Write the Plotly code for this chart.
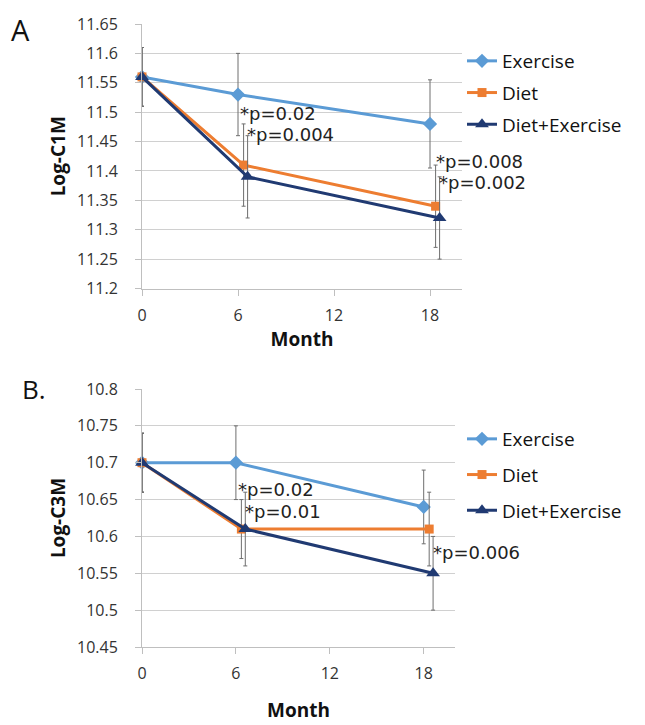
import plotly.graph_objects as go

months = [0, 6, 18]
series_names = ["Exercise", "Diet", "Diet+Exercise"]
x_offsets = [0.0, 0.35, 0.6]  # visual dodge used in the original chart (months)

# Panel A: Log-C1M
c1m_exercise = [11.56, 11.53, 11.48]
c1m_diet = [11.56, 11.41, 11.34]
c1m_dietex = [11.56, 11.39, 11.32]
c1m_err_exercise = [0.05, 0.07, 0.075]
c1m_err_diet = [0.05, 0.07, 0.07]
c1m_err_dietex = [0.05, 0.07, 0.07]

# Panel B: Log-C3M
c3m_exercise = [10.70, 10.70, 10.64]
c3m_diet = [10.70, 10.61, 10.61]
c3m_dietex = [10.70, 10.61, 10.55]
c3m_err_exercise = [0.04, 0.05, 0.05]
c3m_err_diet = [0.04, 0.04, 0.05]
c3m_err_dietex = [0.04, 0.05, 0.05]

# p-value annotations: (x month, y value, text)
pvals_a = [(6.0, 11.497, "*p=0.02"), (6.45, 11.462, "*p=0.004"),
           (18.25, 11.416, "*p=0.008"), (18.45, 11.38, "*p=0.002")]
pvals_b = [(6.0, 10.664, "*p=0.02"), (6.45, 10.634, "*p=0.01"),
           (18.45, 10.578, "*p=0.006")]

colors = ["#5B9BD5", "#ED7D31", "#203A72"]
symbols = ["diamond", "square", "triangle-up"]
msizes = [11, 9, 12]

# page body has an 8px default margin; lay out in page pixels
OFF = 8
W, H = 645 - OFF, 725 - OFF
def px(x):
    return (x - OFF) / W
def py(y):
    return 1 - (y - OFF) / H

fig = go.Figure()

def add_panel(vals, errs, xa, ya, legend):
    for i, (name, v, e) in enumerate(zip(series_names, vals, errs)):
        xs = [m + (x_offsets[i] if m > 0 else 0) for m in months]
        fig.add_trace(go.Scatter(
            x=xs, y=v, name=name, mode="lines+markers",
            line=dict(color=colors[i], width=3),
            marker=dict(symbol=symbols[i], size=msizes[i], color=colors[i]),
            error_y=dict(type="data", array=e, visible=True, color="#6E6E6E",
                         thickness=1, width=2),
            xaxis=xa, yaxis=ya, legend=legend, legendgroup=legend + name,
            cliponaxis=False,
        ))

add_panel([c1m_exercise, c1m_diet, c1m_dietex],
          [c1m_err_exercise, c1m_err_diet, c1m_err_dietex], "x", "y", "legend")
add_panel([c3m_exercise, c3m_diet, c3m_dietex],
          [c3m_err_exercise, c3m_err_diet, c3m_err_dietex], "x2", "y2", "legend2")

afont = dict(family="DejaVu Sans", size=18, color="#222")
annots = []
for (x, y, t) in pvals_a:
    annots.append(dict(x=x, y=y, xref="x", yref="y", text=t, showarrow=False,
                       xanchor="left", yanchor="middle", font=afont))
for (x, y, t) in pvals_b:
    annots.append(dict(x=x, y=y, xref="x2", yref="y2", text=t, showarrow=False,
                       xanchor="left", yanchor="middle", font=afont))
annots.append(dict(x=px(9), y=py(8), xref="paper", yref="paper", text="A",
                   showarrow=False, xanchor="left", yanchor="top",
                   font=dict(family="Open Sans", size=29, color="#111")))
annots.append(dict(x=px(20), y=py(369), xref="paper", yref="paper", text="B.",
                   showarrow=False, xanchor="left", yanchor="top",
                   font=dict(family="Open Sans", size=26, color="#111")))

tickfont = dict(family="Open Sans", size=16, color="#333")
titlefont = dict(family="Open Sans", size=19, color="#111", weight="bold")

xcommon = dict(range=[0, 20], tickvals=[0, 6, 12, 18], ticktext=["0", "6", "12", "18"],
               showgrid=False, showline=True, linecolor="#BFBFBF", ticks="outside",
               ticklen=6, tickcolor="#BFBFBF", tickfont=tickfont, zeroline=False,
               automargin=False, ticklabelstandoff=6)
ycommon = dict(showgrid=True, gridcolor="#D0D0D0", showline=True,
               linecolor="#BFBFBF", ticks="outside", ticklen=6, tickcolor="#BFBFBF",
               tickfont=tickfont, zeroline=False, automargin=False,
               ticklabelstandoff=14)

lfont = dict(family="Open Sans", size=19, color="#111")

fig.update_layout(
    width=W, height=H, margin=dict(l=0, r=0, t=0, b=0),
    paper_bgcolor="white", plot_bgcolor="white",
    font=dict(family="Open Sans"),
    xaxis=dict(domain=[px(142), px(462)], anchor="y",
               title=dict(text="Month", font=titlefont, standoff=6), **xcommon),
    yaxis=dict(domain=[py(288.5), py(24)], anchor="x", range=[11.2, 11.65],
               tickvals=[11.2 + 0.05 * k for k in range(10)],
               ticktext=["11.2", "11.25", "11.3", "11.35", "11.4", "11.45", "11.5",
                         "11.55", "11.6", "11.65"],
               title=dict(text="Log-C1M", font=titlefont, standoff=6), **ycommon),
    xaxis2=dict(domain=[px(142), px(455)], anchor="y2",
                title=dict(text="Month", font=titlefont, standoff=20), **xcommon),
    yaxis2=dict(domain=[py(647), py(389)], anchor="x2", range=[10.45, 10.8],
                tickvals=[10.45 + 0.05 * k for k in range(8)],
                ticktext=["10.45", "10.5", "10.55", "10.6", "10.65", "10.7", "10.75", "10.8"],
                title=dict(text="Log-C3M", font=titlefont, standoff=6), **ycommon),
    legend=dict(x=px(462), y=py(42), xanchor="left", yanchor="top",
                font=lfont, itemwidth=30, tracegroupgap=4, bgcolor="rgba(0,0,0,0)"),
    legend2=dict(x=px(462), y=py(420), xanchor="left", yanchor="top",
                 font=lfont, itemwidth=30, tracegroupgap=8, bgcolor="rgba(0,0,0,0)"),
    annotations=annots,
    showlegend=True,
)

fig.write_html("out.html")
